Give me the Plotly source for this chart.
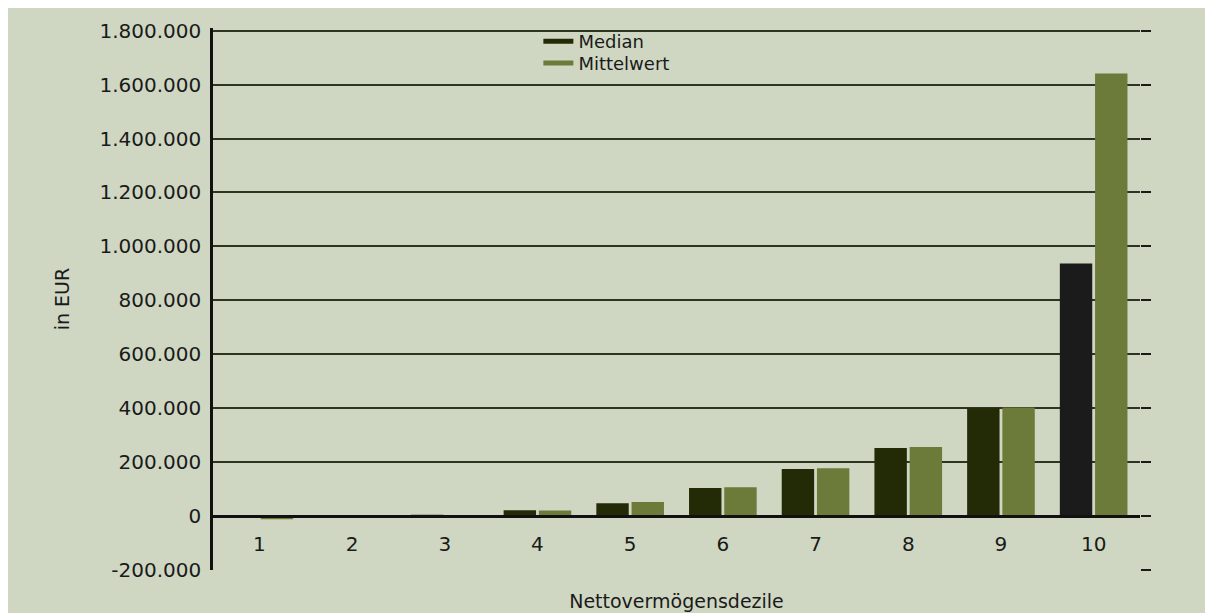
import plotly.graph_objects as go

deciles = ["1", "2", "3", "4", "5", "6", "7", "8", "9", "10"]
median_vals = [-2000, 500, 5000, 22000, 48000, 104000, 175000, 252000, 400000, 937000]
mean_vals = [-12000, 300, 3000, 21000, 52000, 107000, 177000, 256000, 403000, 1641000]
y_ticks = [-200000, 0, 200000, 400000, 600000, 800000, 1000000, 1200000, 1400000, 1600000, 1800000]
y_tick_labels = ["-200.000", "0", "200.000", "400.000", "600.000", "800.000",
                 "1.000.000", "1.200.000", "1.400.000", "1.600.000", "1.800.000"]

BG = "#cfd7c2"
MEDIAN_C = "#232b06"
MEDIAN_LAST = "#1b1b1b"
MEAN_C = "#6c7a3a"
FONT = "DejaVu Sans"
TXT = "#1a1a1a"
Y_RANGE = [-200000, 1810000]

median_colors = [MEDIAN_C] * (len(deciles) - 1) + [MEDIAN_LAST]

fig = go.Figure()
fig.add_trace(go.Bar(x=deciles, y=median_vals, name="Median",
                     marker=dict(color=median_colors, line=dict(width=0)),
                     showlegend=False))
fig.add_trace(go.Bar(x=deciles, y=mean_vals, name="Mittelwert",
                     marker=dict(color=MEAN_C, line=dict(width=0)),
                     showlegend=False))
# legend entries drawn as short thick dashes, like the original
fig.add_trace(go.Scatter(x=[None], y=[None], mode="lines", name="Median",
                         line=dict(color=MEDIAN_C, width=5), legend="legend"))
fig.add_trace(go.Scatter(x=[None], y=[None], mode="lines", name="Mittelwert",
                         line=dict(color=MEAN_C, width=5), legend="legend2"))
# invisible trace to hold the right-hand tick axis
fig.add_trace(go.Scatter(x=[None], y=[None], yaxis="y2", showlegend=False,
                         hoverinfo="skip"))

legend_common = dict(x=0.351, xanchor="left", yanchor="middle",
                     bgcolor="rgba(0,0,0,0)", font=dict(size=18, color=TXT),
                     itemwidth=30, borderwidth=0)

fig.update_layout(
    width=1213, height=613,
    margin=dict(l=205, r=81, t=20, b=51),
    paper_bgcolor=BG, plot_bgcolor=BG,
    barmode="group", bargap=0.24, bargroupgap=0.08,
    font=dict(family=FONT, size=19, color=TXT),
    legend=dict(y=0.975, **legend_common),
    legend2=dict(y=0.935, **legend_common),
    xaxis=dict(
        type="category",
        anchor="free", position=0.1,
        showline=True, linecolor="#111111", linewidth=2.5,
        ticks="", showgrid=False,
        tickfont=dict(size=20, color=TXT), ticklabelstandoff=9,
        title=dict(text="Nettovermögensdezile", font=dict(size=19, color=TXT), standoff=40),
    ),
    yaxis=dict(
        range=Y_RANGE,
        tickvals=y_ticks, ticktext=y_tick_labels,
        showline=True, linecolor="#111111", linewidth=2.5,
        showgrid=True, gridcolor="#2e3322", gridwidth=1.5,
        zeroline=False, ticks="",
        tickfont=dict(size=20, color=TXT), ticklabelstandoff=5,
        title=dict(text="in EUR", font=dict(size=19, color=TXT), standoff=25),
    ),
    yaxis2=dict(
        overlaying="y", side="right", range=Y_RANGE,
        tickvals=y_ticks, showticklabels=False, ticks="outside",
        ticklen=10, tickwidth=2, tickcolor="#1a1a1a",
        showgrid=False, showline=False, zeroline=False,
    ),
)

fig.write_html("out.html")
